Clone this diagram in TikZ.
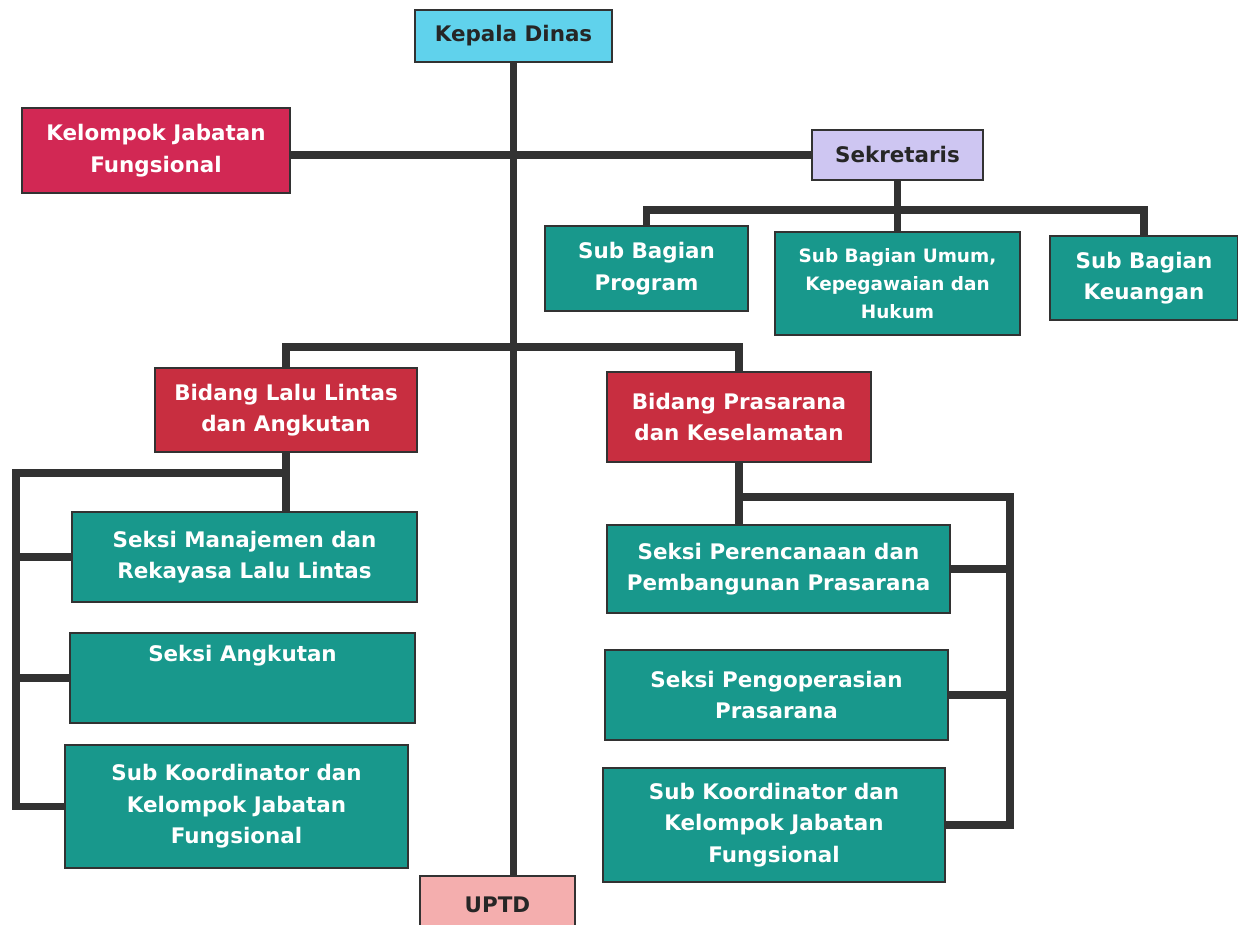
\documentclass[tikz,border=0pt]{standalone}
\usepackage{fontspec}
\setmainfont{DejaVu Sans}
\usetikzlibrary{positioning,backgrounds}
\definecolor{kepala}{RGB}{96,210,236}
\definecolor{fungsi}{RGB}{210,40,84}
\definecolor{bidang}{RGB}{200,46,64}
\definecolor{sekret}{RGB}{206,198,242}
\definecolor{seksi}{RGB}{24,152,140}
\definecolor{uptdc}{RGB}{244,174,174}
\definecolor{garis}{RGB}{50,50,50}

\begin{document}
\begin{tikzpicture}[x=0.02cm,y=-0.02cm]
        \tikzstyle{unit}=[rectangle,draw=garis,line width=1pt,align=center,inner sep=2pt,font=\fontsize{12.2}{18}\selectfont\bfseries]
        \tikzstyle{size}=[minimum width=#1*0.02cm]
        \tikzstyle{high}=[minimum height=#1*0.02cm]
        \tikzstyle{lite}=[unit,text=black!85]
        \tikzstyle{dark}=[unit,text=white]
        \tikzstyle{link}=[draw=garis,line width=4pt,line cap=rect]
        \useasboundingbox (0,0) rectangle (1238,924);
        \clip (0,0) rectangle (1238,924);
        % pimpinan
        \node[lite,fill=kepala,size=197,high=52] (kd) at (513.5,36) {Kepala Dinas};
        \node[dark,fill=fungsi,size=268,high=85] (kjf) at (156,150.5) {Kelompok Jabatan\\Fungsional};
        \node[lite,fill=sekret,size=171,high=50] (sek) at (897.5,155) {Sekretaris};
        \node[dark,fill=seksi,size=203,high=85] (sbp) at (646.5,268.5) {Sub Bagian\\Program};
        \node[dark,fill=seksi,size=245,high=103,font=\fontsize{10.5}{16}\selectfont\bfseries] (sbu) at (897.5,283.5) {Sub Bagian Umum,\\Kepegawaian dan\\Hukum};
        \node[dark,fill=seksi,size=188,high=84] (sbk) at (1144,278) {Sub Bagian\\Keuangan};
        % bidang
        \node[dark,fill=bidang,size=262,high=84] (bll) at (286,410) {Bidang Lalu Lintas\\dan Angkutan};
        \node[dark,fill=bidang,size=264,high=90] (bpk) at (739,417) {Bidang Prasarana\\dan Keselamatan};
        \node[dark,fill=seksi,size=345,high=90] (smd) at (244.5,557) {Seksi Manajemen dan\\Rekayasa Lalu Lintas};
        \node[dark,fill=seksi,size=345,high=90] (sak) at (242.5,678) {Seksi Angkutan\\[10pt]};
        \node[dark,fill=seksi,size=343,high=123] (skl) at (236.5,806.5) {Sub Koordinator dan\\Kelompok Jabatan\\Fungsional};
        \node[dark,fill=seksi,size=343,high=88] (spp) at (778.5,569) {Seksi Perencanaan dan\\Pembangunan Prasarana};
        \node[dark,fill=seksi,size=343,high=90] (spo) at (776.5,695) {Seksi Pengoperasian\\Prasarana};
        \node[dark,fill=seksi,size=342,high=114] (skr) at (774,825) {Sub Koordinator dan\\Kelompok Jabatan\\Fungsional};
        \node[lite,fill=uptdc,size=155,high=58,text depth=-14pt] (uptd) at (497.5,905) {UPTD};
        % garis
        \coordinate (sj) at (900,210);
        \coordinate (bj) at (512,347);
        \coordinate (lj) at (16,473);
        \coordinate (rj) at (1010,497);
        \begin{scope}[on background layer]
        \path[link] (kd.south) -- (kd.south |- uptd.north);
        \path[link] (sek.west) -- (sek.west -| kjf.east);
        \path[link] (sek.south) -- (sbu.north);
        \path[link] (sbp.north) |- (sj) -| (sbk.north);
        \path[link] (bll.north) |- (bj) -| (bpk.north);
        \path[link] (bll.south) -- (bll.south |- smd.north);
        \path[link] (bll.south |- lj) -- (lj) |- (skl.west);
        \path[link] (lj |- smd.west) -- (smd.west);
        \path[link] (lj |- sak.west) -- (sak.west);
        \path[link] (bpk.south) -- (bpk.south |- spp.north);
        \path[link] (bpk.south |- rj) -- (rj) |- (skr.east);
        \path[link] (rj |- spp.east) -- (spp.east);
        \path[link] (rj |- spo.east) -- (spo.east);
        \end{scope}
    \end{tikzpicture}
\end{document}
